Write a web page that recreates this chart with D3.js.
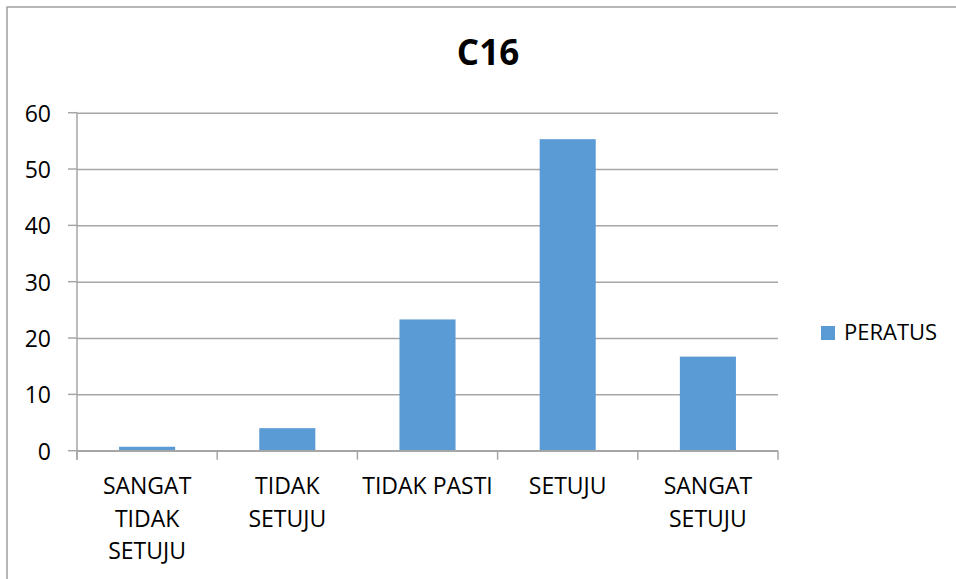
<!DOCTYPE html>
<html>
<head>
<meta charset="utf-8">
<script src="https://cdn.jsdelivr.net/npm/d3@7"></script>
<style>
  html, body { margin: 0; padding: 0; background: #fff; }
  svg { display: block; }
  text { font-family: "Open Sans", "Noto Sans", sans-serif; fill: #000; }
</style>
</head>
<body>
<svg id="chart" width="956" height="579"></svg>
<script>
const title = "C16";
const seriesName = "PERATUS";
const categories = ["SANGAT TIDAK SETUJU", "TIDAK SETUJU", "TIDAK PASTI", "SETUJU", "SANGAT SETUJU"];
const values = [0.7, 4.0, 23.3, 55.3, 16.7];
const yTicks = [0, 10, 20, 30, 40, 50, 60];

const svg = d3.select("#chart");
const W = 956, H = 579;
const plot = { left: 77, right: 778, top: 112.7, bottom: 450.7 };
const gray = "#a6a6a6";
const barColor = "#5b9bd5";

// outer frame (only top and left visible in crop)
svg.append("path")
  .attr("d", `M7,${H + 5} L7,7 L${W + 5},7`)
  .attr("fill", "none").attr("stroke", "#a0a0a0").attr("stroke-width", 1.5);

const x = d3.scaleBand().domain(categories).range([plot.left, plot.right])
  .paddingInner(0.6).paddingOuter(0.3);
const y = d3.scaleLinear().domain([0, 60]).range([plot.bottom, plot.top]);

// gridlines
const yAxis = d3.axisLeft(y).tickValues(yTicks).tickSize(-(plot.right - plot.left)).tickPadding(0).tickFormat("");
const gy = svg.append("g").attr("transform", `translate(${plot.left},0)`).call(yAxis);
gy.select(".domain").remove();
gy.selectAll(".tick line").attr("stroke", gray).attr("stroke-width", 1.5);
// small outside tick segments
svg.append("g").selectAll("line").data(yTicks).join("line")
  .attr("x1", plot.left - 9).attr("x2", plot.left)
  .attr("y1", d => y(d)).attr("y2", d => y(d))
  .attr("stroke", gray).attr("stroke-width", 1.5);
// y labels
svg.append("g").selectAll("text").data(yTicks).join("text")
  .attr("x", 51).attr("y", d => y(d))
  .attr("text-anchor", "end").attr("dominant-baseline", "central")
  .style("font-size", "23px")
  .text(d => d);

// y axis line
svg.append("line").attr("x1", plot.left).attr("x2", plot.left)
  .attr("y1", plot.top).attr("y2", plot.bottom + 9)
  .attr("stroke", gray).attr("stroke-width", 1.5);

// bars
svg.append("g").selectAll("rect").data(values).join("rect")
  .attr("x", (d, i) => x(categories[i]))
  .attr("width", x.bandwidth())
  .attr("y", d => y(d))
  .attr("height", d => y(0) - y(d))
  .attr("fill", barColor);

// x axis baseline and boundary ticks
svg.append("line").attr("x1", plot.left).attr("x2", plot.right)
  .attr("y1", plot.bottom).attr("y2", plot.bottom)
  .attr("stroke", gray).attr("stroke-width", 1.5);
const step = x.step();
const bounds = d3.range(categories.length + 1).map(i => x(categories[0]) - step * x.paddingOuter() + i * step);
svg.append("g").selectAll("line").data(bounds).join("line")
  .attr("x1", d => d).attr("x2", d => d)
  .attr("y1", plot.bottom).attr("y2", plot.bottom + 9)
  .attr("stroke", gray).attr("stroke-width", 1.5);

// x labels with wrapping
const maxW = step;
const measure = svg.append("text").style("font-size", "23px").attr("visibility", "hidden");
function wrap(str) {
  const words = str.split(" ");
  const lines = [];
  let cur = "";
  words.forEach(w => {
    const test = cur ? cur + " " + w : w;
    measure.text(test);
    if (measure.node().getComputedTextLength() > maxW && cur) { lines.push(cur); cur = w; }
    else cur = test;
  });
  if (cur) lines.push(cur);
  return lines;
}
const xl = svg.append("g");
categories.forEach(c => {
  const lines = wrap(c);
  const t = xl.append("text")
    .attr("x", x(c) + x.bandwidth() / 2)
    .attr("y", 494)
    .attr("text-anchor", "middle")
    .style("font-size", "23px");
  lines.forEach((ln, j) => {
    t.append("tspan").attr("x", x(c) + x.bandwidth() / 2).attr("y", 494 + j * 32.5).text(ln);
  });
});
measure.remove();

// title
svg.append("text").attr("x", 488).attr("y", 65)
  .attr("text-anchor", "middle")
  .style("font-size", "35px").style("font-weight", "bold")
  .text(title);

// legend
const lg = svg.append("g");
lg.append("rect").attr("x", 821).attr("y", 326).attr("width", 14).attr("height", 14).attr("fill", barColor);
lg.append("text").attr("x", 844).attr("y", 340).style("font-size", "22px").text(seriesName);
</script>
</body>
</html>
